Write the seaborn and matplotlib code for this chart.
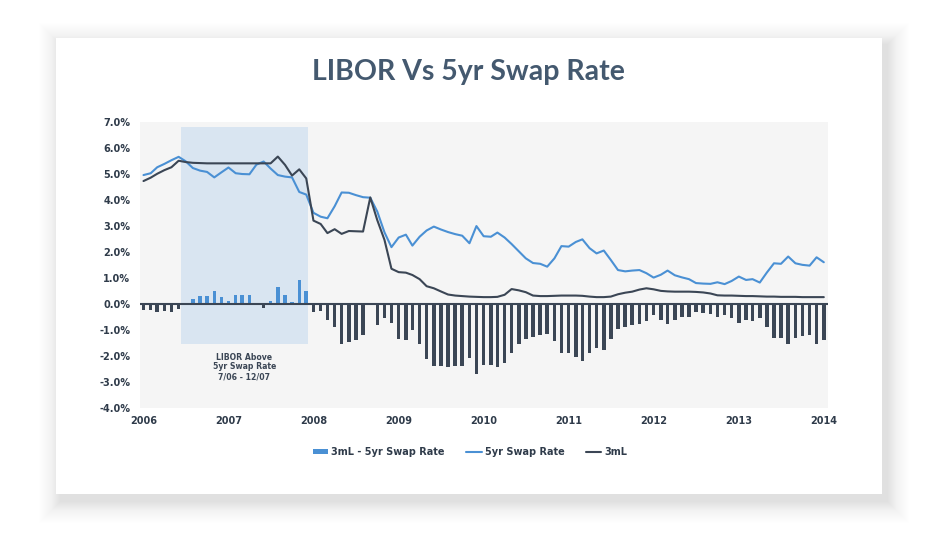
import numpy as np
import pandas as pd
import seaborn as sns
import matplotlib.pyplot as plt
import matplotlib.dates as mdates
from matplotlib.patches import Rectangle, Patch
from matplotlib.lines import Line2D

# monthly, Jan 2006 .. Jan 2014
months = pd.date_range('2006-01-01', periods=97, freq='MS')

swap_5yr = [4.95, 5.02, 5.25, 5.38, 5.52, 5.65, 5.48, 5.22, 5.12, 5.07, 4.86, 5.05,
            5.24, 5.02, 4.99, 4.98, 5.35, 5.47, 5.20, 4.95, 4.89, 4.86, 4.30, 4.20,
            3.50, 3.35, 3.29, 3.75, 4.28, 4.27, 4.18, 4.10, 4.08, 3.55, 2.75, 2.18,
            2.55, 2.66, 2.24, 2.58, 2.82, 2.97, 2.86, 2.76, 2.68, 2.62, 2.33, 2.99,
            2.60, 2.58, 2.74, 2.55, 2.30, 2.02, 1.75, 1.57, 1.54, 1.43, 1.75, 2.22,
            2.20, 2.38, 2.48, 2.14, 1.94, 2.05, 1.69, 1.30, 1.25, 1.28, 1.30, 1.18,
            1.01, 1.12, 1.28, 1.10, 1.02, 0.95, 0.80, 0.78, 0.77, 0.83, 0.76, 0.88,
            1.05, 0.92, 0.95, 0.82, 1.20, 1.56, 1.54, 1.82, 1.56, 1.50, 1.47, 1.79,
            1.60]

libor_3m = [4.72, 4.85, 5.00, 5.14, 5.25, 5.50, 5.45, 5.42, 5.41, 5.40, 5.40, 5.40,
            5.40, 5.40, 5.40, 5.40, 5.40, 5.40, 5.40, 5.66, 5.34, 4.93, 5.17, 4.82,
            3.20, 3.07, 2.72, 2.87, 2.69, 2.80, 2.79, 2.78, 4.09, 3.22, 2.46, 1.35,
            1.22, 1.20, 1.11, 0.95, 0.68, 0.60, 0.48, 0.36, 0.32, 0.30, 0.28, 0.27,
            0.26, 0.26, 0.27, 0.35, 0.57, 0.52, 0.45, 0.32, 0.30, 0.30, 0.31, 0.32,
            0.32, 0.32, 0.31, 0.28, 0.26, 0.26, 0.28, 0.37, 0.43, 0.47, 0.55, 0.60,
            0.56, 0.50, 0.48, 0.47, 0.47, 0.47, 0.46, 0.44, 0.40, 0.33, 0.32, 0.32,
            0.31, 0.30, 0.30, 0.29, 0.28, 0.28, 0.27, 0.27, 0.27, 0.26, 0.26, 0.26,
            0.26]

spread = [-0.22, -0.22, -0.32, -0.27, -0.32, -0.19, 0.05, 0.19, 0.29, 0.32, 0.51, 0.26,
          0.10, 0.36, 0.36, 0.36, 0.00, -0.15, 0.10, 0.65, 0.33, 0.06, 0.93, 0.51,
          -0.32, -0.28, -0.61, -0.90, -1.56, -1.46, -1.37, -1.20, 0.00, -0.81, -0.54, -0.72,
          -1.34, -1.39, -1.00, -1.56, -2.10, -2.38, -2.38, -2.41, -2.38, -2.38, -2.07, -2.71,
          -2.35, -2.35, -2.43, -2.26, -1.88, -1.54, -1.34, -1.27, -1.20, -1.14, -1.41, -1.88,
          -1.88, -2.03, -2.18, -1.88, -1.69, -1.78, -1.34, -0.95, -0.88, -0.83, -0.77, -0.64,
          -0.41, -0.60, -0.79, -0.60, -0.51, -0.49, -0.31, -0.35, -0.37, -0.49, -0.44, -0.56,
          -0.72, -0.61, -0.64, -0.56, -0.90, -1.31, -1.31, -1.56, -1.31, -1.24, -1.20, -1.54,
          -1.37]

df = pd.DataFrame({'date': months, 'swap': swap_5yr, 'libor': libor_3m, 'spread': spread})

blue = '#4a90d4'
dark = '#3b4655'
txt = '#2f3b4a'

sns.set_style('white')
plt.rcParams['font.family'] = ['DejaVu Sans']

W, H = 936, 534
fig = plt.figure(figsize=(W / 100, H / 100), dpi=100)
fig.patch.set_facecolor('white')

def fx(x):
    return x / W

def fy(y):
    return 1 - y / H

# card with soft shadow (layered, fading outwards)
cx0, cy0, cx1, cy1 = 56, 38, 882, 494
for k in range(22, 0, -1):
    fig.patches.append(Rectangle((fx(cx0 - k + 5), fy(cy1 + k + 7)),
                                 fx(cx1 - cx0 + 2 * k), (cy1 - cy0 + 2 * k) / H,
                                 transform=fig.transFigure, facecolor='#000000',
                                 alpha=0.0025 + 0.006 * (1 - k / 22), edgecolor='none',
                                 zorder=-20))
fig.patches.append(Rectangle((fx(cx0), fy(cy1)), fx(cx1 - cx0), (cy1 - cy0) / H,
                             transform=fig.transFigure, facecolor='white',
                             edgecolor='none', zorder=-10))

ax = fig.add_axes([fx(140), fy(408), fx(828 - 140), (408 - 121.7) / H])
ax.set_facecolor('#f5f5f5')

# shaded period
ax.fill_between([pd.Timestamp('2006-06-10'), pd.Timestamp('2007-12-10')], -1.53, 6.8,
                color='#d9e5f1', lw=0, zorder=1)

bar_colors = [blue if v > 0 else dark for v in df['spread']]
ax.bar(df['date'], df['spread'], width=15, color=bar_colors, lw=0, zorder=2)
ax.axhline(0, color=dark, lw=1.5, zorder=3)

sns.lineplot(data=df, x='date', y='swap', color=blue, lw=1.5, ax=ax, zorder=4)
sns.lineplot(data=df, x='date', y='libor', color=dark, lw=1.5, ax=ax, zorder=5)

ax.set_ylim(-4, 7)
ax.set_xlim(pd.Timestamp('2005-12-17'), pd.Timestamp('2014-01-19'))
ax.set_yticks(np.arange(-4, 8, 1))
ax.set_yticklabels([f'{v:.1f}%' for v in np.arange(-4, 8, 1)])
ax.xaxis.set_major_locator(mdates.YearLocator())
ax.xaxis.set_major_formatter(mdates.DateFormatter('%Y'))
ax.set_xlabel('')
ax.set_ylabel('')
ax.tick_params(axis='both', length=0, labelsize=7, labelcolor=txt)
ax.tick_params(axis='y', pad=7)
ax.tick_params(axis='x', pad=6)
for lab in ax.get_xticklabels() + ax.get_yticklabels():
    lab.set_fontweight('bold')
for s in ax.spines.values():
    s.set_visible(False)

ax.text(pd.Timestamp('2007-03-10'), -2.42, 'LIBOR Above\n5yr Swap Rate\n7/06 - 12/07',
        ha='center', va='center', fontsize=5.6, fontweight='bold', color=dark,
        linespacing=1.1)

fig.text(fx(468), fy(72), 'LIBOR Vs 5yr Swap Rate', ha='center', va='center',
         fontsize=20.5, fontweight='bold', color='#44596f', family=['Lato', 'DejaVu Sans'])

handles = [Patch(facecolor=blue, edgecolor='none'),
           Line2D([0], [0], color=blue, lw=1.5),
           Line2D([0], [0], color=dark, lw=1.5)]
leg = fig.legend(handles, ['3mL - 5yr Swap Rate', '5yr Swap Rate', '3mL'],
                 loc='center', bbox_to_anchor=(fx(470), fy(452)), ncol=3,
                 frameon=False, handlelength=1.6, handleheight=0.5,
                 handletextpad=0.3, columnspacing=2.2,
                 prop={'size': 7, 'weight': 'bold'})
for t in leg.get_texts():
    t.set_color(txt)

fig.savefig('out.png', dpi=100)
